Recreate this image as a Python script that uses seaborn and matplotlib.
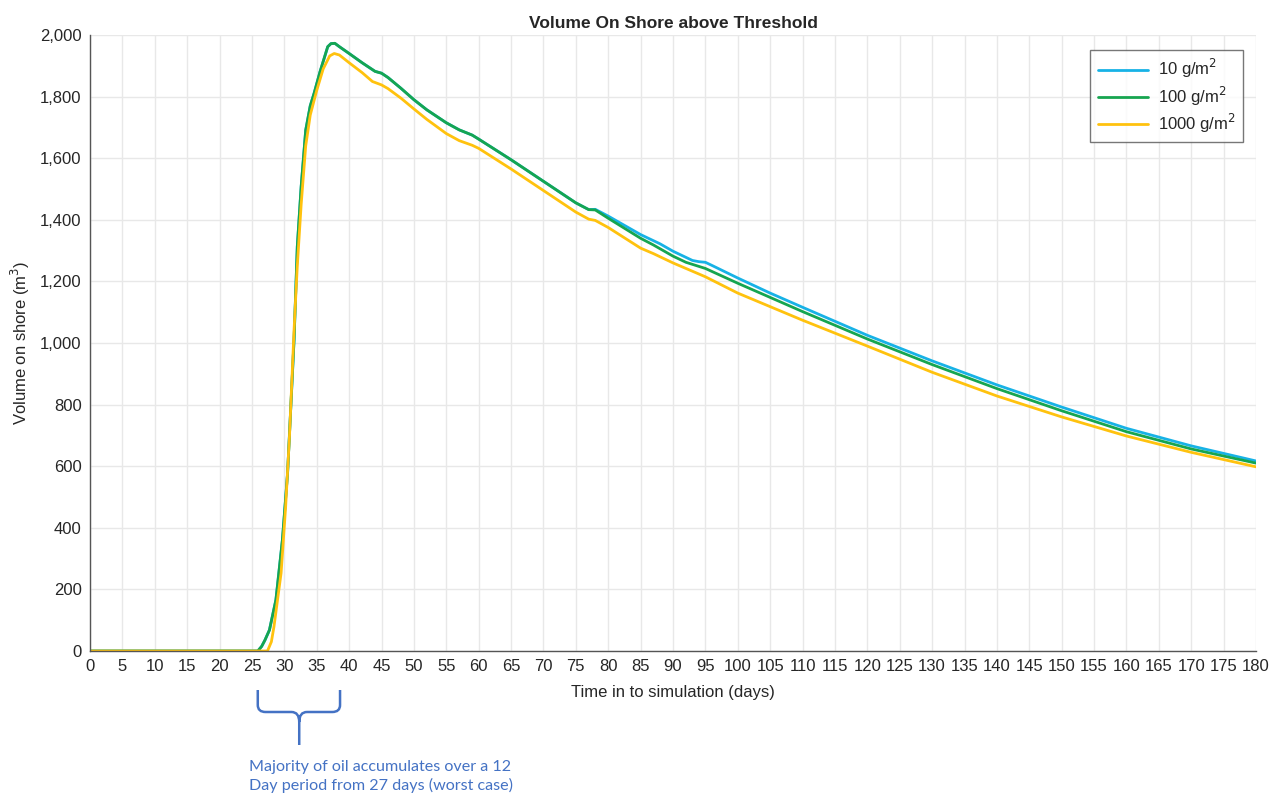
import numpy as np
import pandas as pd
import matplotlib
matplotlib.use("Agg")
import matplotlib.pyplot as plt
import matplotlib.transforms as mtransforms
from matplotlib.path import Path
from matplotlib.patches import PathPatch
from matplotlib.ticker import FuncFormatter
import seaborn as sns

# ---- data ----
days_100 = [0, 25.9, 26.5, 27.0, 27.7, 28.7, 29.7, 30.5, 31.0, 31.5, 32.0, 32.6, 33.3, 34.0,
            34.6, 35.5, 36.7, 37.2, 37.8, 38.5, 40, 42, 44, 45, 46, 48, 50, 52, 55, 57, 59,
            60, 65, 70, 75, 77, 78, 80, 85, 87, 90, 92, 95, 100, 105, 110, 120, 130, 140,
            150, 160, 170, 180]
vol_100 = [0, 0, 15, 35, 68, 166, 360, 577, 793, 1010, 1313, 1508, 1691, 1770,
           1811, 1880, 1962, 1972, 1973, 1962, 1940, 1910, 1882, 1876, 1862, 1827, 1790, 1757,
           1715, 1692, 1675, 1662, 1595, 1525, 1455, 1433, 1432, 1405, 1340, 1318, 1282, 1262,
           1242, 1194, 1148, 1102, 1013, 930, 852, 780, 712, 656, 610]

days_10 = days_100[:36] + [78, 80, 85, 88, 90, 93, 94, 95, 96, 100, 105, 110, 120, 130, 140,
                           150, 160, 170, 180]
vol_10 = vol_100[:36] + [1434, 1412, 1352, 1322, 1298, 1268, 1264, 1262, 1252, 1211, 1162,
                         1116, 1025, 942, 864, 792, 723, 666, 617]

days_1000 = [0, 27.4, 28.0, 28.4, 29.5, 30.2, 30.8, 31.5, 32.0, 32.6, 33.3, 34.0, 35.0, 36.0,
             37.0, 37.7, 38.5, 40, 42, 43.6, 45, 46, 48, 50, 52, 55, 57, 59, 60, 65, 70, 75,
             77, 78, 80, 85, 87, 90, 95, 100, 105, 110, 120, 130, 140, 150, 160, 170, 180]
vol_1000 = [0, 0, 30, 79, 253, 468, 700, 1042, 1250, 1450, 1640, 1740, 1820, 1890,
            1932, 1940, 1935, 1910, 1878, 1849, 1838, 1826, 1795, 1760, 1726, 1680, 1657, 1642,
            1632, 1565, 1495, 1425, 1402, 1398, 1375, 1308, 1290, 1260, 1215, 1162, 1118, 1074,
            990, 905, 828, 760, 698, 645, 598]

series_labels = ["10 g/m$^2$", "100 g/m$^2$", "1000 g/m$^2$"]
series_colors = ["#17B2E6", "#16A550", "#FFC20E"]

x_ticks = list(range(0, 181, 5))
y_ticks = list(range(0, 2001, 200))

df = pd.concat([
    pd.DataFrame({"day": days_10, "vol": vol_10, "series": series_labels[0]}),
    pd.DataFrame({"day": days_100, "vol": vol_100, "series": series_labels[1]}),
    pd.DataFrame({"day": days_1000, "vol": vol_1000, "series": series_labels[2]}),
], ignore_index=True)

# ---- style ----
sns.set_theme(style="white")
plt.rcParams["font.family"] = ["Liberation Sans", "DejaVu Sans"]

fig = plt.figure(figsize=(12.71, 7.94), dpi=100)
ax = fig.add_axes([90 / 1271, 1 - 651 / 794, 1166 / 1271, 616 / 794])

sns.lineplot(data=df, x="day", y="vol", hue="series", palette=dict(zip(series_labels, series_colors)),
             hue_order=series_labels, sort=False, estimator=None, linewidth=2.0, ax=ax, legend=True)

ax.set_xlim(0, 180)
ax.set_ylim(0, 2000)
ax.set_xticks(x_ticks)
ax.set_yticks(y_ticks)
ax.yaxis.set_major_formatter(FuncFormatter(lambda v, p: f"{int(v):,}"))
ax.grid(True, color="#e8e8e8", linewidth=1.0)
ax.set_axisbelow(True)
for s in ["top", "right"]:
    ax.spines[s].set_visible(False)
for s in ["left", "bottom"]:
    ax.spines[s].set_color("#555555")
    ax.spines[s].set_linewidth(1.0)
ax.tick_params(axis="both", direction="in", length=8, width=1.0, color="#555555",
               labelsize=12, labelcolor="#262626", pad=6)

ax.set_title("Volume On Shore above Threshold", fontsize=12.5, fontweight="bold", color="#262626", pad=5)
ax.set_xlabel("Time in to simulation (days)", fontsize=12, color="#262626", labelpad=8)
ax.set_ylabel("Volume on shore (m$^3$)", fontsize=12, color="#262626", labelpad=6)

handles, labels = ax.get_legend_handles_labels()
leg = ax.legend(handles, labels, loc="upper right", bbox_to_anchor=(0.989, 0.976), borderaxespad=0,
                fontsize=12, frameon=True, fancybox=False, edgecolor="#555555",
                handlelength=3.0, handletextpad=0.6, labelspacing=0.25, borderpad=0.45)
leg.get_frame().set_linewidth(1.0)
for t in leg.get_texts():
    t.set_color("#262626")

# ---- brace annotation ----
tr = mtransforms.blended_transform_factory(ax.transData, fig.transFigure)
def fy(py):
    return 1 - py / 794
xl, xc, xr = 25.9, 32.3, 38.6
r = 1.2
verts = [
    (xl, fy(690)), (xl, fy(705)),
    (xl, fy(712)), (xl + r, fy(712)),
    (xc - r, fy(712)),
    (xc, fy(712)), (xc, fy(722)),
    (xc, fy(745)),
    (xc, fy(722)), (xc, fy(712)), (xc + r, fy(712)),
    (xr - r, fy(712)),
    (xr, fy(712)), (xr, fy(705)),
    (xr, fy(690)),
]
codes = [Path.MOVETO, Path.LINETO, Path.CURVE3, Path.CURVE3, Path.LINETO,
         Path.CURVE3, Path.CURVE3, Path.LINETO,
         Path.MOVETO, Path.CURVE3, Path.CURVE3, Path.LINETO,
         Path.CURVE3, Path.CURVE3, Path.LINETO]
brace = PathPatch(Path(verts, codes), transform=tr, fill=False, edgecolor="#4472C4",
                  linewidth=1.8, clip_on=False)
fig.add_artist(brace)

fig.text(249 / 1271, fy(760), "Majority of oil accumulates over a 12\nDay period from 27 days (worst case)",
         ha="left", va="top", fontsize=11.6, color="#4472C4", family=["Lato", "DejaVu Sans"],
         linespacing=1.3)

fig.savefig("out.png", dpi=100)
